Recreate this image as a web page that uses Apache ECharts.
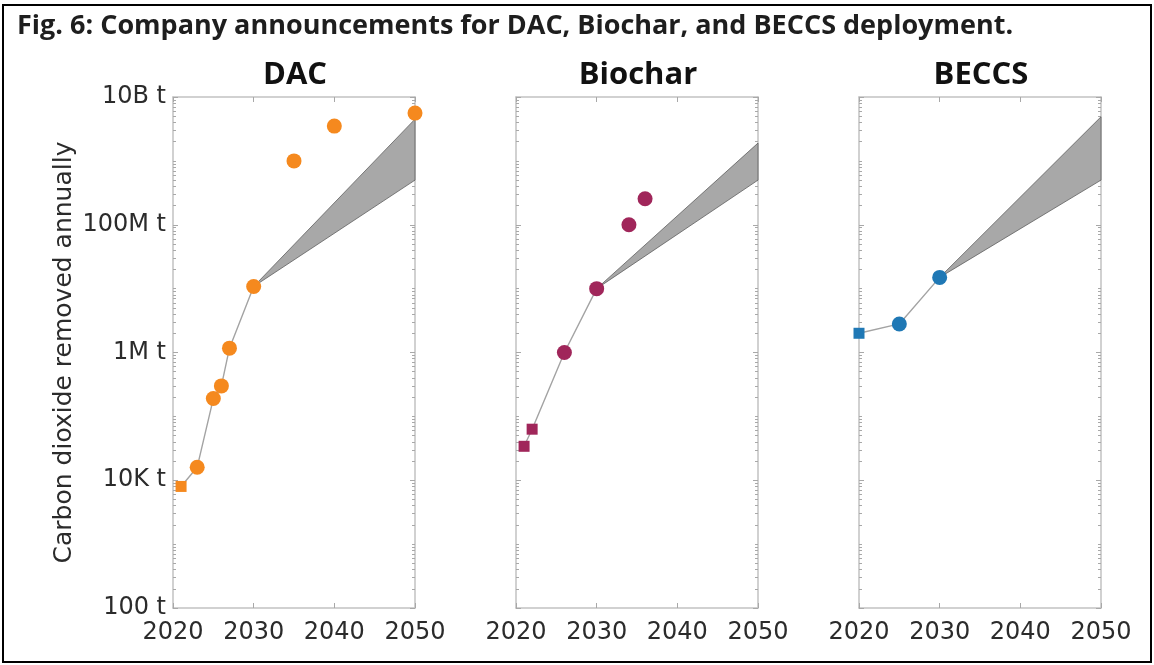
<!DOCTYPE html>
<html><head><meta charset="utf-8">
<script src="https://cdn.jsdelivr.net/npm/echarts@6/dist/echarts.min.js"></script>
<style>html,body{margin:0;padding:0;background:#fff}#c{width:1154px;height:665px}</style>
</head><body><div id="c"></div><script>
// ---- data ----
const figTitle = 'Fig. 6: Company announcements for DAC, Biochar, and BECCS deployment.';
const yAxisName = 'Carbon dioxide removed annually';
const panelTitles = ['DAC', 'Biochar', 'BECCS'];
const xTickValues = [2020, 2030, 2040, 2050];
const yTickValues = [1e2, 1e4, 1e6, 1e8, 1e10];
const yTickLabels = ['100 t', '10K t', '1M t', '100M t', '10B t'];

const dacSquareYears = [2021];
const dacSquareValues = [8000];
const dacCircleYears = [2023, 2025, 2026, 2027, 2030, 2035, 2040, 2050];
const dacCircleValues = [16000, 190000, 300000, 1170000, 10800000, 1.0e9, 3.5e9, 5.6e9];
const dacPathYears = [2021, 2023, 2025, 2026, 2027, 2030];
const dacPathValues = [8000, 16000, 190000, 300000, 1170000, 10800000];
const dacFan = [2030, 10800000, 2050, 4.5e9, 5.0e8];

const biocharSquareYears = [2021, 2022];
const biocharSquareValues = [34000, 63000];
const biocharCircleYears = [2026, 2030, 2034, 2036];
const biocharCircleValues = [1000000, 10000000, 100000000, 255000000];
const biocharPathYears = [2021, 2022, 2026, 2030];
const biocharPathValues = [34000, 63000, 1000000, 10000000];
const biocharFan = [2030, 10000000, 2050, 1.9e9, 5.0e8];

const beccsSquareYears = [2020];
const beccsSquareValues = [2000000];
const beccsCircleYears = [2025, 2030];
const beccsCircleValues = [2800000, 15000000];
const beccsPathYears = [2020, 2025, 2030];
const beccsPathValues = [2000000, 2800000, 15000000];
const beccsFan = [2030, 15000000, 2050, 4.9e9, 5.0e8];

const colors = ['#F5891E', '#A0265A', '#1F78B5'];

// ---- build ----
const zip = (xs, ys) => xs.map((x, i) => [x, ys[i]]);
const panels = [
  {sq: zip(dacSquareYears, dacSquareValues), ci: zip(dacCircleYears, dacCircleValues), path: zip(dacPathYears, dacPathValues), fan: dacFan},
  {sq: zip(biocharSquareYears, biocharSquareValues), ci: zip(biocharCircleYears, biocharCircleValues), path: zip(biocharPathYears, biocharPathValues), fan: biocharFan},
  {sq: zip(beccsSquareYears, beccsSquareValues), ci: zip(beccsCircleYears, beccsCircleValues), path: zip(beccsPathYears, beccsPathValues), fan: beccsFan}
];
const minorTicks = [];
for (let e = 2; e < 10; e++) {
  for (let m = 1; m <= 9; m++) {
    if (m === 1 && e % 2 === 0) continue;
    minorTicks.push(m * Math.pow(10, e));
  }
}
const gridLefts = [173, 516, 859];
const gridW = 242, gridTop = 97, gridH = 511;
const axisCol = '#c2c2c2', tickCol = '#a8a8a8', textCol = '#2b2b2b';
const font = 'DejaVu Sans';

const grids = [], xAxes = [], yAxes = [], series = [], titles = [];
titles.push({text: figTitle, left: 12, top: 8, textStyle: {fontFamily: 'Open Sans', fontWeight: 'bold', fontSize: 27, color: '#1e1e1e'}});
panels.forEach((p, g) => {
  grids.push({left: gridLefts[g], top: gridTop, width: gridW, height: gridH});
  titles.push({text: panelTitles[g], left: gridLefts[g] + gridW / 2 - 4, textAlign: 'center', top: 55,
    textStyle: {fontFamily: 'Open Sans', fontWeight: 'bold', fontSize: 31, color: '#111'}});
  const xBase = {type: 'value', gridIndex: g, min: 2020, max: 2050, interval: 10, splitLine: {show: false}};
  xAxes.push(Object.assign({}, xBase, {position: 'bottom',
    axisLine: {show: true, lineStyle: {color: axisCol, width: 1.5}},
    axisTick: {show: true, inside: true, length: 5, customValues: xTickValues, lineStyle: {color: tickCol}},
    axisLabel: {show: true, customValues: xTickValues, formatter: v => String(v), fontFamily: font, fontSize: 24, color: textCol, margin: 13}}));
  xAxes.push(Object.assign({}, xBase, {position: 'top',
    axisLine: {show: true, lineStyle: {color: axisCol, width: 1.5}},
    axisTick: {show: true, inside: true, length: 5, customValues: xTickValues, lineStyle: {color: tickCol}},
    axisLabel: {show: false}}));
  const yBase = {type: 'log', logBase: 10, gridIndex: g, min: 1e2, max: 1e10, splitLine: {show: false}, minorTick: {show: false}};
  ['left', 'right'].forEach(pos => {
    yAxes.push(Object.assign({}, yBase, {position: pos,
      axisLine: {show: true, lineStyle: {color: axisCol, width: 1.5}},
      axisTick: {show: true, inside: true, length: 5, customValues: yTickValues, lineStyle: {color: tickCol}},
      axisLabel: (pos === 'left' && g === 0) ? {show: true, customValues: yTickValues, fontFamily: font, fontSize: 24, color: textCol, margin: 7,
        formatter: v => yTickLabels[yTickValues.findIndex(t => Math.abs(Math.log10(t) - Math.log10(v)) < 1e-6)]} : {show: false},
      name: (pos === 'left' && g === 0) ? yAxisName : '',
      nameLocation: 'middle', nameRotate: 90, nameGap: 96,
      nameTextStyle: {fontFamily: font, fontSize: 25, color: textCol}}));
    yAxes.push(Object.assign({}, yBase, {position: pos,
      axisLine: {show: false},
      axisTick: {show: true, inside: true, length: 3, customValues: minorTicks, lineStyle: {color: tickCol}},
      axisLabel: {show: false}}));
  });
  const xi = 2 * g, yi = 4 * g;
  series.push({type: 'custom', xAxisIndex: xi, yAxisIndex: yi, z: 1, clip: false,
    encode: {x: [0, 2], y: [1, 3, 4]},
    data: [p.fan],
    renderItem: (params, api) => {
      const a = api.coord([api.value(0), api.value(1)]);
      const b = api.coord([api.value(2), api.value(3)]);
      const c = api.coord([api.value(2), api.value(4)]);
      return {type: 'polygon', shape: {points: [a, b, c]}, style: {fill: '#a8a8a8', stroke: '#5e5e5e', lineWidth: 0.8}};
    }});
  series.push({type: 'line', xAxisIndex: xi, yAxisIndex: yi, z: 2, data: p.path, symbol: 'none',
    lineStyle: {color: '#a3a3a3', width: 1.4}, silent: true, animation: false});
  series.push({type: 'scatter', xAxisIndex: xi, yAxisIndex: yi, z: 3, clip: false, data: p.ci,
    symbol: 'circle', symbolSize: 15, itemStyle: {color: colors[g], opacity: 1}});
  series.push({type: 'scatter', xAxisIndex: xi, yAxisIndex: yi, z: 3, clip: false, data: p.sq,
    symbol: 'rect', symbolSize: 11, itemStyle: {color: colors[g], opacity: 1}});
});

const chart = echarts.init(document.getElementById('c'), null, {renderer: 'canvas'});
chart.setOption({
  animation: false,
  backgroundColor: '#fff',
  title: titles,
  grid: grids,
  xAxis: xAxes,
  yAxis: yAxes,
  series: series,
  graphic: [{type: 'rect', shape: {x: 3, y: 5, width: 1148, height: 657}, style: {fill: null, stroke: '#000', lineWidth: 2}, z: 100}]
});
</script></body></html>
